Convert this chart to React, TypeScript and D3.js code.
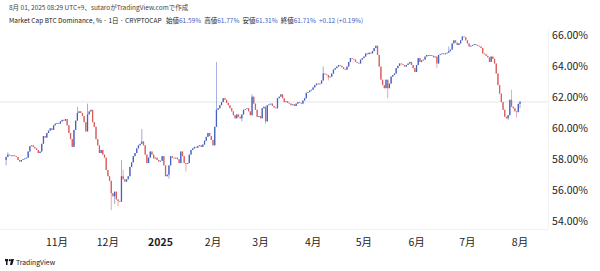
import React from "react";
import * as d3 from "d3";

// ---- data: BTC dominance daily closes (%), starting 2024-10-02 ----
const startDate = "2024-10-02";
const closesOct = [58.15, 58.3, 58.25, 58.2, 58.25, 58.2, 58.15, 57.95, 57.85, 57.95, 58.0, 58.05, 58.1, 58.5, 58.85, 58.9, 58.8, 58.7, 58.6, 58.4, 58.5, 59.0, 59.5, 59.4, 59.7, 59.85, 60.0, 59.9, 60.2, 60.3];
const closesNov = [60.35, 60.3, 60.45, 60.55, 60.5, 60.6, 60.2, 59.7, 59.3, 58.8, 59.9, 60.5, 61.0, 61.1, 61.0, 60.8, 60.4, 59.8, 60.9, 61.1, 61.2, 60.4, 60.1, 59.3, 58.9, 58.4, 58.6, 58.3, 58.1, 57.3];
const closesDec = [56.9, 56.6, 55.8, 55.6, 55.9, 55.4, 55.3, 55.25, 56.9, 56.7, 56.55, 56.7, 56.9, 57.5, 57.8, 58.2, 58.4, 58.7, 58.9, 59.0, 59.15, 58.9, 58.3, 57.75, 58.1, 58.5, 58.3, 58.05, 58.1, 57.95, 57.85];
const closesJan = [57.9, 58.2, 57.6, 56.9, 57.0, 57.6, 58.2, 58.1, 58.05, 58.1, 58.0, 57.75, 58.5, 58.2, 57.75, 57.7, 57.75, 58.3, 58.6, 58.7, 58.8, 58.75, 58.85, 58.9, 58.8, 58.95, 59.2, 59.45, 59.7, 59.5, 59.25];
const closesFeb = [58.9, 60.1, 61.2, 61.3, 61.5, 61.7, 61.95, 61.85, 61.65, 61.5, 61.3, 61.1, 60.85, 60.65, 60.9, 60.75, 60.65, 60.9, 61.2, 61.25, 61.3, 61.1, 60.85, 62.05, 61.6, 61.2, 60.75, 60.8];
const closesMar = [60.65, 61.3, 61.4, 60.45, 61.5, 61.55, 61.6, 61.45, 61.35, 61.3, 61.95, 62.05, 62.2, 61.95, 61.7, 61.75, 61.65, 61.6, 61.5, 61.55, 61.45, 61.6, 61.7, 61.65, 61.6, 61.8, 61.95, 62.3, 62.35, 62.45, 62.5];
const closesApr = [62.65, 62.8, 62.9, 62.85, 62.9, 63.1, 63.55, 63.5, 63.45, 63.3, 63.35, 63.55, 63.8, 63.9, 64.0, 64.1, 64.05, 63.95, 63.85, 63.8, 64.0, 64.3, 64.55, 64.5, 64.45, 64.3, 64.25, 64.2, 64.45, 64.55];
const closesMay = [64.65, 64.85, 64.8, 64.9, 64.85, 65.0, 65.2, 65.35, 64.75, 64.0, 63.15, 62.8, 62.6, 63.15, 62.6, 62.9, 63.35, 63.45, 63.55, 63.9, 64.05, 64.2, 64.15, 64.1, 64.0, 64.1, 64.2, 64.3, 64.1, 63.9, 63.65];
const closesJun = [64.1, 64.55, 64.3, 64.4, 64.45, 64.65, 64.75, 64.7, 64.75, 64.7, 64.6, 64.65, 64.2, 64.75, 64.8, 64.85, 64.8, 64.85, 64.9, 65.0, 65.1, 65.5, 65.7, 65.55, 65.4, 65.5, 65.7, 65.95, 65.9, 65.7];
const closesJul = [65.5, 65.3, 65.35, 65.4, 65.45, 65.4, 65.35, 65.3, 65.2, 64.85, 64.8, 64.7, 64.6, 64.3, 64.65, 64.5, 64.2, 63.55, 62.8, 62.25, 61.7, 61.2, 60.75, 60.65, 60.85, 61.85, 61.4, 61.3, 61.1, 61.05, 61.59];
const closesAug = [61.71];
const firstOpen = 57.95;

// notable wick extremes [date, value]
const wickHighs: [string, number][] = [
  ["2024-11-19", 61.6], ["2024-12-09", 57.95], ["2024-12-21", 59.95],
  ["2025-02-03", 64.3], ["2025-04-07", 64.0], ["2025-07-27", 62.5],
  ["2025-08-01", 61.77], ["2024-11-13", 61.4], ["2024-10-03", 58.45],
  ["2024-12-10", 57.3], ["2025-02-24", 62.2], ["2025-05-10", 64.3],
  ["2025-06-20", 65.3],
];
const wickLows: [string, number][] = [
  ["2024-10-02", 57.6], ["2024-12-03", 54.7], ["2024-12-07", 54.95],
  ["2025-01-16", 57.2], ["2025-05-15", 61.95], ["2025-06-13", 63.9],
  ["2025-07-25", 60.55], ["2025-07-30", 60.7], ["2025-08-01", 61.31],
  ["2025-01-06", 56.75], ["2025-03-04", 60.3], ["2024-12-05", 55.1],
  ["2025-02-18", 60.45], ["2025-04-10", 63.1],
];

const yTicks = [54, 56, 58, 60, 62, 64, 66];
const monthTicks: [string, string][] = [
  ["2024-11-01", "11月"], ["2024-12-01", "12月"], ["2025-01-01", "2025"],
  ["2025-02-01", "2月"], ["2025-03-01", "3月"], ["2025-04-01", "4月"],
  ["2025-05-01", "5月"], ["2025-06-01", "6月"], ["2025-07-01", "7月"],
  ["2025-08-01", "8月"],
];
const lastPrice = 61.71;

const UP = "#4560c0";
const DOWN = "#dc5c5c";
const FONT = "'Noto Sans CJK JP', 'Noto Sans', Roboto, sans-serif";

export default function App() {
  const closes = [
    ...closesOct, ...closesNov, ...closesDec, ...closesJan, ...closesFeb,
    ...closesMar, ...closesApr, ...closesMay, ...closesJun, ...closesJul, ...closesAug,
  ];
  const parse = d3.utcParse("%Y-%m-%d");
  const start = parse(startDate) as Date;
  const hiMap = new Map(wickHighs.map(([d, v]) => [d, v]));
  const loMap = new Map(wickLows.map(([d, v]) => [d, v]));
  const fmt = d3.utcFormat("%Y-%m-%d");

  const candles = closes.map((c, i) => {
    const date = d3.utcDay.offset(start, i);
    const key = fmt(date);
    const o = i === 0 ? firstOpen : closes[i - 1];
    const h = Math.max(o, c, hiMap.get(key) ?? -Infinity);
    const l = Math.min(o, c, loMap.get(key) ?? Infinity);
    return { date, o, h, l, c };
  });

  const x = d3
    .scaleUtc()
    .domain([parse("2024-11-01") as Date, parse("2025-08-01") as Date])
    .range([57, 520]);
  const y = d3.scaleLinear().domain([54, 66]).range([221, 35.7]);

  const bodyW = 1.3;

  return (
    <svg
      width={600}
      height={271}
      style={{ position: "absolute", left: 0, top: 0, background: "#fff" }}
      fontFamily={FONT}
    >
      <rect x={0} y={0} width={600} height={271} fill="#fff" />
      {/* header */}
      <text x={9} y={9.5} fontSize={6.5} fill="#444">
        8月 01, 2025 08:29 UTC+9、sutaroがTradingView.comで作成
      </text>
      <text x={9} y={22.5} fontSize={6.5} fill="#222">
        <tspan>Market Cap BTC Dominance, % · 1日 · CRYPTOCAP </tspan>
        <tspan dx={3}>始値</tspan>
        <tspan fill={UP}>61.59%</tspan>
        <tspan dx={3}>高値</tspan>
        <tspan fill={UP}>61.77%</tspan>
        <tspan dx={3}>安値</tspan>
        <tspan fill={UP}>61.31%</tspan>
        <tspan dx={3}>終値</tspan>
        <tspan fill={UP}>61.71%</tspan>
        <tspan dx={3} fill={UP}>+0.12 (+0.19%)</tspan>
      </text>

      {/* frame separators */}
      <line x1={0} x2={548} y1={229.5} y2={229.5} stroke="#f0f2f6" />
      <line x1={548.5} x2={548.5} y1={28} y2={229} stroke="#f3f4f8" />

      {/* last price line */}
      <line x1={0} x2={548} y1={y(lastPrice)} y2={y(lastPrice)} stroke="#e3e5ec" strokeWidth={1} />

      {/* candles */}
      {candles.map((k, i) => {
        const cx = x(k.date);
        const up = k.c >= k.o;
        const col = up ? UP : DOWN;
        const top = y(Math.max(k.o, k.c));
        const bot = y(Math.min(k.o, k.c));
        return (
          <g key={i}>
            <line x1={cx} x2={cx} y1={y(k.h)} y2={y(k.l)} stroke={col} strokeWidth={0.7} opacity={0.75} />
            <rect x={cx - bodyW / 2} y={top} width={bodyW} height={Math.max(0.8, bot - top)} fill={col} />
          </g>
        );
      })}

      {/* y axis labels */}
      {yTicks.map((t) => (
        <text key={t} x={588} y={y(t)} dy="0.35em" textAnchor="end" fontSize={10.5} fill="#222">
          {t.toFixed(2)}%
        </text>
      ))}

      {/* x axis labels */}
      {monthTicks.map(([d, lab]) => (
        <text
          key={d}
          x={x(parse(d) as Date)}
          y={242}
          dy="0.35em"
          textAnchor="middle"
          fontSize={10.5}
          fontWeight={lab === "2025" ? 700 : 400}
          fill="#222"
        >
          {lab}
        </text>
      ))}

      {/* TradingView logo */}
      <g transform="translate(5,259)">
        <rect x={0} y={0} width={3} height={2.2} fill="#131722" />
        <rect x={1} y={0} width={1.5} height={6} fill="#131722" />
        <circle cx={4.8} cy={1.2} r={1.1} fill="#131722" />
        <path d="M6.2 0 L9 0 L7.2 6 L5 6 Z" fill="#131722" />
        <text x={11} y={5.8} fontSize={6.8} fill="#131722">TradingView</text>
      </g>
    </svg>
  );
}
